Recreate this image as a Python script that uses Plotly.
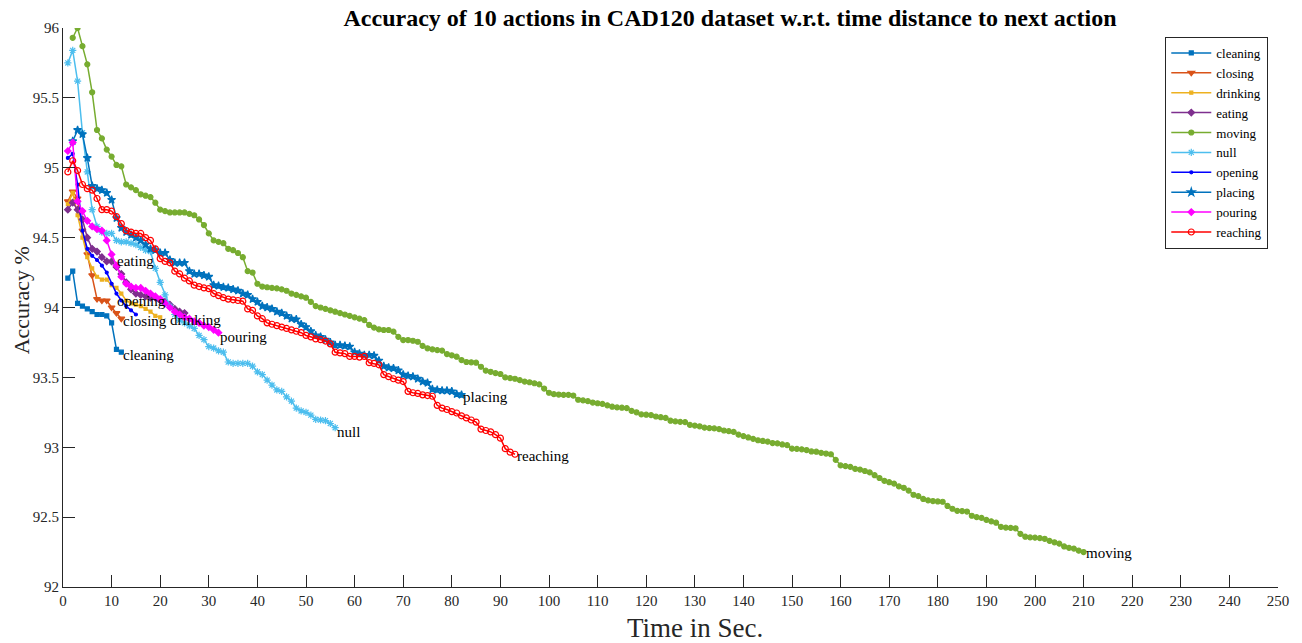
import plotly.graph_objects as go

# ---------------- data ----------------
series_names = ["cleaning", "closing", "drinking", "eating", "moving",
                "null", "opening", "placing", "pouring", "reaching"]

start_sec = {"cleaning": 1, "closing": 1, "drinking": 1, "eating": 1, "moving": 2,
             "null": 1, "opening": 1, "placing": 2, "pouring": 1, "reaching": 1}

cleaning = [94.21, 94.26, 94.03, 94.01, 93.99, 93.97, 93.95, 93.95, 93.94, 93.89,
            93.70, 93.68]

closing = [94.76, 94.83, 94.78, 94.55, 94.38, 94.23, 94.06, 94.05, 94.05, 94.00,
           93.96, 93.92]

drinking = [94.74, 94.82, 94.66, 94.50, 94.36, 94.28, 94.22, 94.20, 94.20, 94.16,
            94.14, 94.10, 94.05, 94.03, 94.02, 94.01, 93.99, 93.97, 93.94, 93.93]

eating = [94.70, 94.75, 94.70, 94.63, 94.50, 94.42, 94.40, 94.36, 94.33, 94.33,
          94.29, 94.24, 94.18, 94.13, 94.10, 94.09, 94.08, 94.07, 94.07, 94.05,
          94.04, 94.02, 93.99, 93.97, 93.96]

moving = [95.93, 96.00, 95.87, 95.74, 95.54, 95.27, 95.21, 95.13, 95.08, 95.02,
          95.01, 94.88, 94.86, 94.84, 94.81, 94.80, 94.79, 94.75, 94.70,
          94.69, 94.68, 94.68, 94.68, 94.68, 94.67, 94.66,
          94.63, 94.59, 94.53, 94.48, 94.47, 94.46, 94.42, 94.41, 94.39, 94.36,
          94.26, 94.25, 94.17,
          94.15, 94.145, 94.14, 94.137, 94.13, 94.12, 94.10, 94.09, 94.08, 94.07,
          94.04, 94.01, 94.00, 93.99, 93.98, 93.97, 93.96, 93.95, 93.94, 93.93,
          93.92, 93.91, 93.875, 93.856, 93.844, 93.839, 93.839, 93.827, 93.79, 93.767,
          93.767, 93.762, 93.755, 93.725, 93.708, 93.701, 93.695, 93.691, 93.667, 93.658,
          93.648, 93.624, 93.61, 93.608, 93.605, 93.576, 93.548, 93.54, 93.53, 93.524,
          93.50, 93.495, 93.49, 93.48, 93.47, 93.465, 93.458, 93.45, 93.42, 93.39,
          93.38, 93.377, 93.375, 93.375, 93.37, 93.34, 93.335, 93.33, 93.32, 93.315,
          93.31, 93.30, 93.29, 93.285, 93.283, 93.28, 93.26, 93.25, 93.235, 93.233,
          93.23, 93.22, 93.215, 93.21, 93.19, 93.185, 93.182, 93.18, 93.16, 93.155,
          93.15, 93.14, 93.137, 93.135, 93.13, 93.12, 93.115, 93.11, 93.09, 93.08,
          93.07, 93.06, 93.05, 93.045, 93.04, 93.03, 93.028, 93.02, 93.015, 92.99,
          92.988, 92.985, 92.98, 92.97, 92.968, 92.96, 92.955, 92.95, 92.91, 92.87,
          92.865, 92.86, 92.845, 92.84, 92.83, 92.82, 92.80, 92.78, 92.76, 92.75,
          92.74, 92.72, 92.71, 92.69, 92.66, 92.65, 92.63, 92.62, 92.615, 92.612,
          92.61, 92.58, 92.56, 92.545, 92.543, 92.54, 92.51, 92.50, 92.495, 92.48,
          92.47, 92.46, 92.43, 92.425, 92.423, 92.42, 92.38, 92.36, 92.355, 92.353,
          92.35, 92.345, 92.33, 92.32, 92.31, 92.29, 92.28, 92.275, 92.26, 92.25]

null = [95.75, 95.84, 95.62, 95.25, 94.97, 94.70, 94.58, 94.54, 94.53, 94.53,
        94.48, 94.47, 94.47, 94.46, 94.45, 94.43, 94.41, 94.40, 94.28, 94.18,
        94.09, 94.01, 93.95, 93.91, 93.89, 93.87, 93.85, 93.80, 93.77, 93.72,
        93.71, 93.69, 93.68, 93.61, 93.60, 93.60, 93.60, 93.60, 93.58, 93.54,
        93.52, 93.48, 93.445, 93.41, 93.40, 93.36, 93.33, 93.28, 93.26, 93.25,
        93.23, 93.20, 93.195, 93.19, 93.17, 93.14]

opening = [95.07, 95.10, 94.88, 94.55, 94.42, 94.37, 94.34, 94.30, 94.25, 94.17,
           94.10, 94.05, 94.01, 93.98, 93.95]

placing = [95.19, 95.27, 95.24, 95.07, 94.87, 94.85, 94.84, 94.82, 94.77, 94.64,
           94.57, 94.54, 94.52, 94.50, 94.48, 94.45, 94.42, 94.41, 94.39, 94.39,
           94.34, 94.32, 94.32, 94.32, 94.26, 94.24, 94.24, 94.23, 94.22, 94.16,
           94.155, 94.145, 94.14, 94.13, 94.12, 94.10, 94.09, 94.06, 94.04, 94.01,
           94.00, 93.99, 93.97, 93.96, 93.94, 93.92, 93.915, 93.88, 93.86, 93.83,
           93.80, 93.79, 93.77, 93.75, 93.73, 93.73, 93.725, 93.72, 93.68, 93.67,
           93.66, 93.66, 93.655, 93.62, 93.58, 93.57, 93.565, 93.55, 93.52, 93.51,
           93.505, 93.49, 93.47, 93.46, 93.415, 93.41, 93.405, 93.405, 93.40, 93.38,
           93.375]

pouring = [95.12, 95.18, 94.76, 94.69, 94.62, 94.58, 94.56, 94.55, 94.48, 94.38,
           94.30, 94.22, 94.17, 94.15, 94.14, 94.14, 94.12, 94.10, 94.08, 94.06,
           94.03, 94.00, 93.97, 93.95, 93.93, 93.92, 93.90, 93.89, 93.87, 93.86,
           93.84, 93.82]

reaching = [94.97, 95.05, 94.98, 94.88, 94.85, 94.84, 94.78, 94.70, 94.70, 94.69,
            94.65, 94.60, 94.55, 94.54, 94.53, 94.53, 94.50, 94.48, 94.42, 94.35,
            94.33, 94.32, 94.26, 94.24, 94.21, 94.19, 94.16, 94.15, 94.14, 94.135,
            94.10, 94.085, 94.07, 94.06, 94.055, 94.05, 94.045, 93.99, 93.98, 93.94,
            93.92, 93.89, 93.88, 93.87, 93.86, 93.85, 93.84, 93.83, 93.82, 93.80,
            93.79, 93.775, 93.77, 93.76, 93.74, 93.68, 93.675, 93.67, 93.65, 93.65,
            93.645, 93.65, 93.605, 93.60, 93.59, 93.52, 93.505, 93.49, 93.48, 93.47,
            93.40, 93.39, 93.385, 93.375, 93.37, 93.365, 93.30, 93.28, 93.27, 93.255,
            93.245, 93.225, 93.21, 93.195, 93.18, 93.13, 93.12, 93.11, 93.09, 93.065,
            92.99, 92.965, 92.95]

values = {"cleaning": cleaning, "closing": closing, "drinking": drinking,
          "eating": eating, "moving": moving, "null": null, "opening": opening,
          "placing": placing, "pouring": pouring, "reaching": reaching}

# text labels placed next to the curves (data coordinates)
label_pos = {"cleaning": (11.9, 93.66), "closing": (11.9, 93.90),
             "drinking": (21.6, 93.91), "eating": (10.7, 94.33),
             "moving": (210.1, 92.24), "null": (56.0, 93.11),
             "opening": (10.7, 94.05), "placing": (81.9, 93.36),
             "pouring": (31.9, 93.79), "reaching": (93.0, 92.94)}

x_ticks = list(range(0, 251, 10))
y_ticks = [92, 92.5, 93, 93.5, 94, 94.5, 95, 95.5, 96]
y_tick_text = ["92", "92.5", "93", "93.5", "94", "94.5", "95", "95.5", "96"]

# ---------------- styles ----------------
styles = {
    "cleaning": dict(color="#0072BD", symbol="square", size=4),
    "closing": dict(color="#D95319", symbol="triangle-down", size=6),
    "drinking": dict(color="#EDB120", symbol="square", size=3),
    "eating": dict(color="#7E2F8E", symbol="diamond", size=5),
    "moving": dict(color="#77AC30", symbol="circle", size=5),
    "null": dict(color="#4DBEEE", symbol="asterisk-open", size=6),
    "opening": dict(color="#0000FF", symbol="circle", size=3),
    "placing": dict(color="#0072BD", symbol="star", size=6),
    "pouring": dict(color="#FF00FF", symbol="diamond", size=5),
    "reaching": dict(color="#FF0000", symbol="circle-open", size=6),
}

FONT = "Liberation Serif, Times New Roman, serif"
AX = "#262626"

fig = go.Figure()
for name in series_names:
    ys = values[name]
    xs = list(range(start_sec[name], start_sec[name] + len(ys)))
    st = styles[name]
    fig.add_trace(go.Scatter(
        x=xs, y=ys, name=name, mode="lines+markers",
        line=dict(color=st["color"], width=1.5),
        marker=dict(color=st["color"], symbol=st["symbol"], size=st["size"],
                    line=dict(color=st["color"], width=1.2)),
    ))

annotations = []
for name in series_names:
    lx, ly = label_pos[name]
    annotations.append(dict(x=lx, y=ly, xref="x", yref="y", text=name,
                            showarrow=False, xanchor="left", yanchor="middle",
                            font=dict(family=FONT, size=15, color="black")))

annotations.append(dict(x=0.52, y=-0.073, xref="paper", yref="paper",
                        text="Time in Sec.", showarrow=False,
                        xanchor="center", yanchor="middle",
                        font=dict(family=FONT, size=27, color=AX)))
annotations.append(dict(x=-0.0345, y=0.513, xref="paper", yref="paper",
                        text="Accuracy %", showarrow=False, textangle=-90,
                        xanchor="center", yanchor="middle",
                        font=dict(family=FONT, size=22, color=AX)))

fig.update_layout(
    width=1302, height=643,
    margin=dict(l=63, r=24, t=28, b=56),
    paper_bgcolor="white", plot_bgcolor="white",
    title=dict(text="<b>Accuracy of 10 actions in CAD120 dataset w.r.t. time distance to next action</b>",
               xref="paper", x=0.549, xanchor="center",
               yref="container", y=0.973, yanchor="middle",
               font=dict(family=FONT, size=24, color="black")),
    font=dict(family=FONT, color=AX),
    showlegend=True,
    legend=dict(x=0.992, xanchor="right", y=0.984, yanchor="top",
                bordercolor=AX, borderwidth=1, bgcolor="white",
                font=dict(family=FONT, size=13, color="black"),
                itemwidth=40, tracegroupgap=0),
    annotations=annotations,
    xaxis=dict(range=[0, 250], tickvals=x_ticks, ticks="inside", ticklen=12,
               tickcolor=AX, tickwidth=1, showline=True, linecolor=AX, linewidth=1,
               showgrid=False, zeroline=False, mirror=False,
               tickfont=dict(family=FONT, size=15, color=AX)),
    yaxis=dict(range=[92, 96], tickvals=y_ticks, ticktext=y_tick_text,
               ticks="inside", ticklen=12, tickcolor=AX, tickwidth=1,
               showline=True, linecolor=AX, linewidth=1,
               showgrid=False, zeroline=False, mirror=False,
               tickfont=dict(family=FONT, size=15, color=AX)),
)

fig.write_html("out.html")
